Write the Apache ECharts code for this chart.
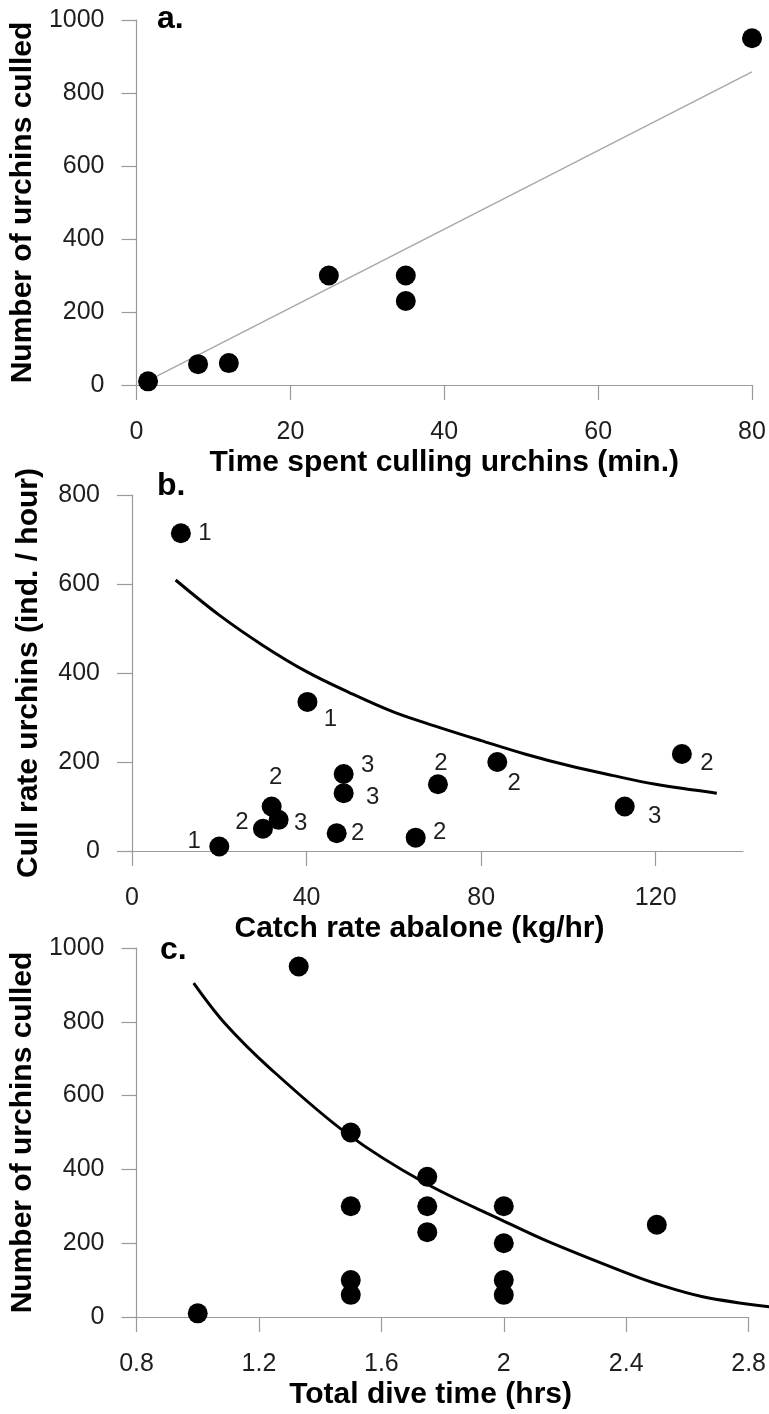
<!DOCTYPE html>
<html>
<head>
<meta charset="utf-8">
<script src="https://cdn.jsdelivr.net/npm/echarts@6/dist/echarts.min.js"></script>
<style>
html,body{margin:0;padding:0;background:#fff;}
#chart{width:769px;height:1414px;}
</style>
</head>
<body>
<div id="chart"></div>
<script>
// Panel a
const aTime = [1.5, 8, 12, 25, 35, 35, 80];
const aCulled = [10, 57, 60, 300, 300, 230, 950];
const aTrendX = [1.5, 80];
const aTrendY = [12, 858];
const aXTicks = [0, 20, 40, 60, 80];

// Panel b
const bCatch = [11.2, 20, 30, 33.6, 32, 40.2, 48.5, 48.5, 46.9, 65, 70.1, 83.7, 112.9, 126];
const bCull = [714, 10, 50, 70, 100, 335, 173, 130, 40, 30, 150, 200, 100, 218];
const bLabel = ['1', '1', '2', '3', '2', '1', '3', '3', '2', '2', '2', '2', '3', '2'];
const bTrendX = [10, 20, 30, 40, 50, 60, 70, 80, 90, 100, 110, 120, 134];
const bTrendY = [609, 530, 462, 403, 355, 312, 279, 248, 218, 192, 170, 150, 130];
const bXTicks = [0, 40, 80, 120];

// Panel c
const cTime = [1.0, 1.33, 1.5, 1.5, 1.5, 1.5, 1.75, 1.75, 1.75, 2, 2, 2, 2, 2.5];
const cCulled = [10, 950, 500, 300, 100, 60, 380, 300, 230, 300, 200, 100, 60, 250];
const cTrendX = [1.0, 1.1, 1.25, 1.5, 1.75, 2.0, 2.15, 2.4, 2.5, 2.65, 2.87];
const cTrendY = [905, 797, 672, 495, 363, 262, 204, 120, 90, 55, 27];

// label placement (style only)
const bLabelOffsets = [[24,0],[-25,-5],[-21,-6],[22,4],[4,-29],[23,17],[24,-9],[29,4],[21,0],[24,-5],[3,-21],[17,21],[30,10],[25,9]];

const FONT = 'Liberation Sans, Arial, sans-serif';
const AXIS_COLOR = '#9a9a9a';
const TEXT_COLOR = '#1e1e1e';

function zip(xs, ys) { return xs.map((x, i) => [x, ys[i]]); }
function plain(v) { return String(v); }

function xAxisCfg(grid, min, max, interval, name, ticks, namePad) {
  return {
    type: 'value', gridIndex: grid, min: min, max: max, interval: interval,
    name: name, nameLocation: 'middle', nameGap: 63,
    nameTextStyle: { fontFamily: FONT, fontWeight: 'bold', fontSize: 30, color: '#000', padding: namePad || 0 },
    axisLine: { show: true, onZero: false, lineStyle: { color: AXIS_COLOR, width: 1.2 } },
    axisTick: { show: true, length: 15, lineStyle: { color: AXIS_COLOR, width: 1.2 }, customValues: ticks },
    axisLabel: { fontFamily: FONT, fontSize: 25, color: TEXT_COLOR, margin: 35, customValues: ticks,
      formatter: v => String(Math.round(v * 10) / 10) },
    splitLine: { show: false }
  };
}
function yAxisCfg(grid, max, name) {
  return {
    type: 'value', gridIndex: grid, min: 0, max: max, interval: 200,
    name: name, nameLocation: 'middle', nameGap: 88, nameRotate: 90,
    nameTextStyle: { fontFamily: FONT, fontWeight: 'bold', fontSize: 30, color: '#000' },
    axisLine: { show: true, onZero: false, lineStyle: { color: AXIS_COLOR, width: 1.2 } },
    axisTick: { show: true, length: 15, lineStyle: { color: AXIS_COLOR, width: 1.2 } },
    axisLabel: { fontFamily: FONT, fontSize: 25, color: TEXT_COLOR, margin: 32, formatter: plain },
    splitLine: { show: false }
  };
}
// an invisible axis pair sharing panel c's scale but reaching the page edge,
// so the fitted curve can run past the 2.8 end of the drawn axis as in the original
const C_PLOT_RIGHT = 20;
const C_EXT_MAX = 0.8 + 2.0 * (769 - 132) / (769 - 132 - C_PLOT_RIGHT);
function hiddenAxis(grid, min, max) {
  return { type: 'value', gridIndex: grid, min: min, max: max, show: false, splitLine: { show: false } };
}

const chart = echarts.init(document.getElementById('chart'));
const option = {
  backgroundColor: '#fff',
  animation: false,
  title: [
    { text: 'a.', left: 157, top: 3, padding: 0, textStyle: { fontFamily: FONT, fontWeight: 'bold', fontSize: 32, color: '#000' } },
    { text: 'b.', left: 157, top: 470, padding: 0, textStyle: { fontFamily: FONT, fontWeight: 'bold', fontSize: 32, color: '#000' } },
    { text: 'c.', left: 160, top: 934, padding: 0, textStyle: { fontFamily: FONT, fontWeight: 'bold', fontSize: 32, color: '#000' } }
  ],
  grid: [
    { left: 132, right: 17, top: 20, height: 365 },
    { left: 132, right: 26, top: 495, height: 356 },
    { left: 132, right: C_PLOT_RIGHT, top: 948, height: 369 },
    { left: 132, right: 0, top: 948, height: 369 }
  ],
  xAxis: [
    xAxisCfg(0, 0, 80, 20, 'Time spent culling urchins (min.)', aXTicks),
    xAxisCfg(1, 0, 140, 40, 'Catch rate abalone (kg/hr)', bXTicks, [0, 36, 0, 0]),
    xAxisCfg(2, 0.8, 2.8, 0.4, 'Total dive time (hrs)', null, [0, 24, 0, 0]),
    hiddenAxis(3, 0.8, C_EXT_MAX)
  ],
  yAxis: [
    yAxisCfg(0, 1000, 'Number of urchins culled'),
    yAxisCfg(1, 800, 'Cull rate urchins (ind. / hour)'),
    yAxisCfg(2, 1000, 'Number of urchins culled'),
    hiddenAxis(3, 0, 1000)
  ],
  series: [
    { type: 'line', xAxisIndex: 0, yAxisIndex: 0, data: zip(aTrendX, aTrendY), showSymbol: false, symbol: 'none',
      lineStyle: { color: '#a8a8a8', width: 1.5 }, z: 1 },
    { type: 'scatter', xAxisIndex: 0, yAxisIndex: 0, data: zip(aTime, aCulled), symbolSize: 20,
      itemStyle: { color: '#000', opacity: 1 }, z: 3 },
    { type: 'line', xAxisIndex: 1, yAxisIndex: 1, data: zip(bTrendX, bTrendY), showSymbol: false, symbol: 'none',
      smooth: 0.35,
      lineStyle: { color: '#000', width: 3 }, z: 1 },
    { type: 'scatter', xAxisIndex: 1, yAxisIndex: 1, symbolSize: 20,
      data: bCatch.map((x, i) => ({ value: [x, bCull[i]], label: { offset: bLabelOffsets[i] } })),
      itemStyle: { color: '#000', opacity: 1 },
      label: { show: true, position: 'inside', fontFamily: FONT, fontSize: 24, color: TEXT_COLOR,
        formatter: p => bLabel[p.dataIndex] }, z: 3 },
    { type: 'line', xAxisIndex: 3, yAxisIndex: 3, data: zip(cTrendX, cTrendY), showSymbol: false, symbol: 'none',
      smooth: 0.35, lineStyle: { color: '#000', width: 3 }, z: 1 },
    { type: 'scatter', xAxisIndex: 2, yAxisIndex: 2, data: zip(cTime, cCulled), symbolSize: 20,
      itemStyle: { color: '#000', opacity: 1 }, z: 3 }
  ]
};
chart.setOption(option);
</script>
</body>
</html>
